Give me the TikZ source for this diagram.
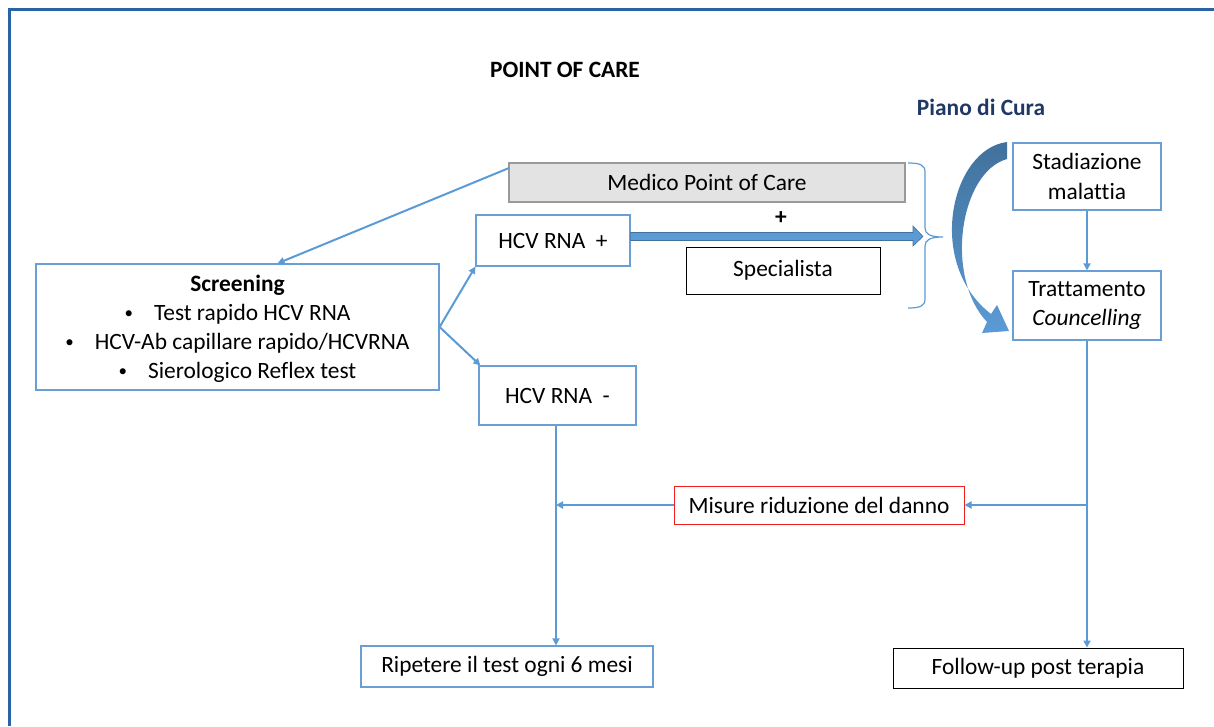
\documentclass[tikz,border=0pt]{standalone}
\usepackage{fontspec}
\setmainfont[Ligatures=NoCommon]{Carlito}
\usetikzlibrary{arrows.meta,calc}
\definecolor{frameblue}{HTML}{2863A3}
\definecolor{lblue}{HTML}{5B9BD5}
\definecolor{dblue}{HTML}{41719C}
\definecolor{boxblue}{HTML}{6A9FD6}
\definecolor{navy}{HTML}{1F3864}
\definecolor{medgray}{HTML}{E3E3E3}
\definecolor{medborder}{HTML}{9A9A9A}
\definecolor{redb}{HTML}{F01E1E}
\newcommand{\smbul}{\raisebox{2pt}{\fontsize{17}{17}\selectfont\textbullet}\hspace{21pt}}
\tikzset{
  box/.style={draw=boxblue, line width=1.2pt, inner sep=0pt, align=center, font=\fontsize{23.4}{29.5}\selectfont},
  blackbox/.style={box, draw=black, line width=1pt},
  conn/.style={draw=lblue, line width=2pt, -{Triangle[length=7pt,width=7pt]}},
  plainconn/.style={draw=lblue, line width=2pt},
}
\begin{document}
\begin{tikzpicture}[x=1pt,y=-1pt]
\useasboundingbox (0,0) rectangle (1214,726);
% frame
\draw[frameblue, line width=3pt] (9,726) -- (9,9) -- (1216,9);
% titles
\node[font=\fontsize{23.4}{26}\selectfont\bfseries] (poc) at (565,70) {POINT OF CARE};
\node[font=\fontsize{23.4}{26}\selectfont\bfseries, text=navy] (piano) at (981,107) {Piano di Cura};
% boxes
\node[box, draw=medborder, fill=medgray, minimum width=396pt, minimum height=39pt] (med) at (707,182.5) {Medico Point of Care};
\node[box, minimum width=154pt, minimum height=51pt] (hcvp) at (553,240.5) {HCV RNA\ \ +};
\node[blackbox, minimum width=194pt, minimum height=47pt] (spec) at (783,270.5) {Specialista};
\node[box, minimum width=148pt, minimum height=67pt] (stad) at (1087,176.5) {Stadiazione\\malattia};
\node[box, minimum width=148pt, minimum height=69pt] (tratt) at (1087,305.5) {Trattamento\\\itshape Councelling};
\node[box, minimum width=403pt, minimum height=126pt, text depth=0pt] (screen) at (237.5,327) {};
\node[align=center, inner sep=0pt, font=\fontsize{23.4}{29}\selectfont] (screentext) at (237.5,329) {\textbf{Screening}\\\smbul Test rapido HCV RNA\\\smbul HCV-Ab capillare rapido/HCVRNA\\\smbul Sierologico Reflex test};
\node[box, minimum width=157pt, minimum height=59pt] (hcvm) at (557.5,395.5) {HCV RNA\ \ -};
\node[box, draw=redb, line width=1pt, minimum width=290pt, minimum height=38pt] (misure) at (819,505) {Misure riduzione del danno};
\node[box, minimum width=292pt, minimum height=41pt] (ripet) at (507,666.5) {Ripetere il test ogni 6 mesi};
\node[blackbox, minimum width=290pt, minimum height=40pt] (follow) at (1038,668) {Follow-up post terapia};
% plus sign
\node[font=\fontsize{23.4}{26}\selectfont\bfseries] (plus) at (781,218) {+};
% brace
\coordinate (btip) at (943,237);
\draw[lblue, line width=1.2pt] (908,163) .. controls (920,163) and (925,165) .. (925,172) -- (925,228) .. controls (925,234) and (930,237) .. (btip)
  .. controls (930,237) and (925,240) .. (925,246) -- (925,299) .. controls (925,306) and (920,308) .. (908,308);
% thick arrow hcvp -> brace
\coordinate (thickend) at (923,236.5);
\fill[lblue, draw=dblue, line width=0.6pt] (hcvp.east |- 0,232.5) -- (913,232.5) -- (913,226) -- (thickend) -- (913,246) -- (913,240.5) -- (hcvp.east |- 0,240.5) -- cycle;
% curved arrow
\shade[top color=dblue, bottom color=lblue, shading angle=0]
  (1007,142) .. controls (951,149) and (925,263) .. (991,314)
  -- (997,305) -- (1009,331) -- (982,333) -- (987,322)
  .. controls (944,276) and (960,172) .. (1007,159) -- cycle;
% connectors
\coordinate (medstart) at (509,168);
\draw[conn] (medstart) -- ([xshift=40pt]screen.north);
\draw[conn] (screen.east) -- (hcvp.south west);
\draw[conn] (screen.east) -- ([xshift=2pt]hcvm.north west);
\draw[conn] (stad.south) -- (tratt.north);
\coordinate (fj) at (1087,505);
\draw[plainconn] (tratt.south) -- (fj);
\draw[conn] (fj) -- (tratt.south |- follow.north);
\draw[conn] (fj) -- (misure.east);
\draw[conn] (misure.west) -- ([xshift=-1.5pt]hcvm.south |- misure.west);
\draw[conn] ([xshift=-1.5pt]hcvm.south) -- ([xshift=-1.5pt]hcvm.south |- ripet.north);
\end{tikzpicture}
\end{document}
